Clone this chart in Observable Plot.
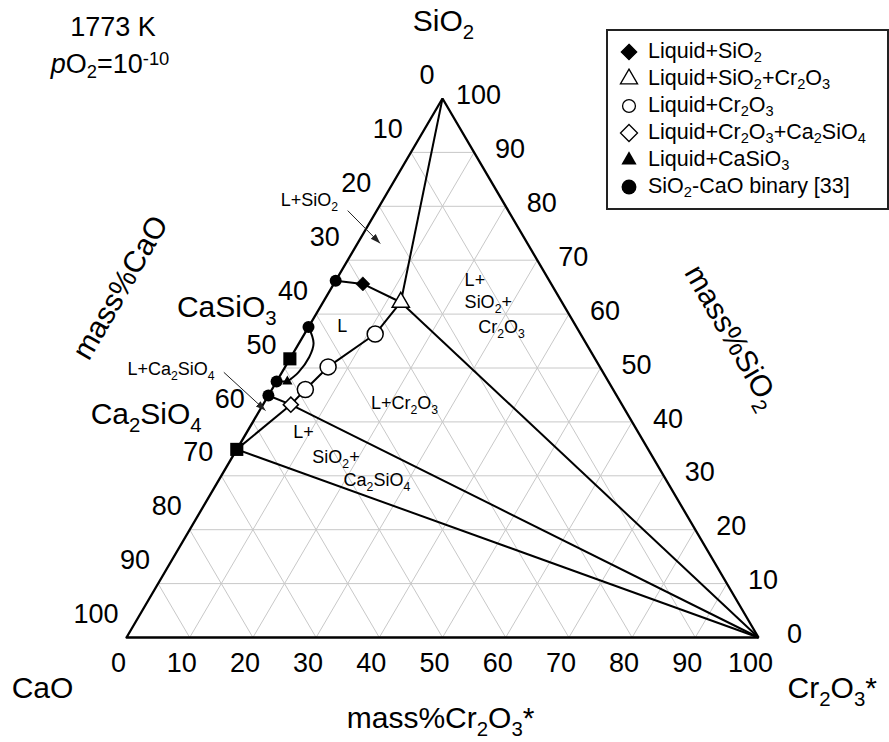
<!DOCTYPE html>
<html><head><meta charset="utf-8">
<script src="https://cdn.jsdelivr.net/npm/d3@7"></script>
<script src="https://cdn.jsdelivr.net/npm/@observablehq/plot@0.6"></script>
<style>
body{margin:0;background:#fff;font-family:"Liberation Sans",Arial,sans-serif;color:#000;}
#wrap{position:relative;width:889px;height:742px;}
.ov{position:absolute;white-space:nowrap;}
.sub{font-size:0.68em;vertical-align:-0.28em;line-height:0;}
.sup{font-size:0.68em;vertical-align:0.45em;line-height:0;}
#legend{position:absolute;left:606px;top:29px;width:279px;height:177px;border:2px solid #222;background:#fff;}
.lrow{position:absolute;left:0;height:27px;line-height:27px;font-size:21.5px;}
.lrow svg{position:absolute;left:10px;top:3px;}
.lrow span.t{position:absolute;left:40px;top:0;}
</style></head><body><div id="wrap"></div><script>
// ---- data: compositions [CaO, SiO2, Cr2O3*] in mass% ----
const cornerSiO2 = [0, 100, 0];
const cornerCaO = [100, 0, 0];
const cornerCr2O3 = [0, 0, 100];
const binaryCaOSiO2 = [[33.8, 66.2, 0], [42.4, 57.6, 0], [52.5, 47.5, 0], [55.1, 44.9, 0]];
const liquidSiO2 = [[29.8, 65.6, 4.6]];
const liquidSiO2Cr2O3 = [[25.5, 62.2, 12.3]];
const liquidCr2O3 = [[32.5, 56.3, 11.2], [43.0, 50.2, 6.8], [48.7, 46.0, 5.3]];
const liquidCr2O3Ca2SiO4 = [[52.4, 43.2, 4.4]];
const liquidCaSiO3 = [[50.8, 47.5, 1.7]];
const compounds = [[48.3, 51.7, 0], [65.1, 34.9, 0]]; // CaSiO3, Ca2SiO4
const caSiO3Liquidus = [[42.4, 57.6, 0], [43.1, 54.6, 2.3], [45.1, 52.0, 2.9], [48.2, 49.2, 2.6], [50.8, 47.5, 1.7]];
const caSiO3Tail = [[50.8, 47.5, 1.7], [52.5, 47.5, 0]];
const tickValues = [0, 10, 20, 30, 40, 50, 60, 70, 80, 90, 100];
const gridValues = [10, 20, 30, 40, 50, 60, 70, 80, 90];

// region / axis labels: [CaO, SiO2, Cr2O3] anchor positions
const regionLabels = [
  {text: "L+SiO_2", at: [30.5, 81.1, -11.6], anchor: "middle"},
  {text: "L", at: [37.0, 57.7, 5.3], anchor: "middle"},
  {text: "L+", at: [13.4, 66.2, 20.4], anchor: "start"},
  {text: "SiO_2+", at: [15.4, 62.2, 22.4], anchor: "start"},
  {text: "Cr_2O_3", at: [15.6, 57.5, 26.9], anchor: "start"},
  {text: "L+Cr_2O_3", at: [34.3, 43.4, 22.3], anchor: "middle"},
  {text: "L+", at: [54.6, 38.0, 7.4], anchor: "start"},
  {text: "SiO_2+", at: [53.9, 33.4, 12.7], anchor: "start"},
  {text: "Ca_2SiO_4", at: [51.1, 29.1, 19.8], anchor: "start"},
  {text: "L+Ca_2SiO_4", at: [61.2, 49.7, -10.9], anchor: "end"}
];
const compoundLabels = [
  {text: "CaSiO_3", at: [45.6, 61.3, -6.9]},
  {text: "Ca_2SiO_4", at: [67.4, 41.4, -8.8]}
];
const cornerLabels = [
  {text: "SiO_2", at: [-7.3, 114.3, -7.0]},
  {text: "CaO", at: [118.0, -9.46, -8.56]},
  {text: "Cr_2O_3*", at: [-6.9, -9.46, 116.4]}
];
const axisTitles = [
  {text: "mass%CaO", at: [68.5, 64.9, -33.4], rotate: -60},
  {text: "mass%SiO_2", at: [-23.7, 55.8, 67.9], rotate: 60},
  {text: "mass%Cr_2O_3*", at: [57.8, -15.0, 57.2], rotate: 0}
];
const arrows = [
  {from: [25.4, 79.2, -4.6], to: [23.3, 73.1, 3.6]},
  {from: [60.0, 49.2, -9.2], to: [56.95, 42.1, 0.95]}
];
const legendLabels = ["Liquid+SiO_2", "Liquid+SiO_2+Cr_2O_3", "Liquid+Cr_2O_3", "Liquid+Cr_2O_3+Ca_2SiO_4", "Liquid+CaSiO_3", "SiO_2-CaO binary [33]"];

// ---- projection ----
const px = d => d[2] + d[1] / 2;
const py = d => d[1];

const gridSegs = gridValues.flatMap(k => [
  [[100 - k, k, 0], [0, k, 100 - k]],
  [[k, 100 - k, 0], [k, 0, 100 - k]],
  [[100 - k, 0, k], [0, 100 - k, k]]
]);
const ties = [
  [cornerSiO2, liquidSiO2Cr2O3[0]],
  [liquidSiO2Cr2O3[0], cornerCr2O3],
  [liquidCr2O3Ca2SiO4[0], cornerCr2O3],
  [compounds[1], liquidCr2O3Ca2SiO4[0]],
  [compounds[1], cornerCr2O3],
  [binaryCaOSiO2[3], liquidCr2O3Ca2SiO4[0]]
];
const boundarySiO2 = [binaryCaOSiO2[0], liquidSiO2[0], liquidSiO2Cr2O3[0]];
const boundaryCr2O3 = [liquidSiO2Cr2O3[0], ...liquidCr2O3, liquidCr2O3Ca2SiO4[0]];
const frame = [cornerCaO, cornerSiO2, cornerCr2O3, cornerCaO];

const FONT = "Liberation Sans, Arial, sans-serif";
const seg = {x1: d => px(d[0]), y1: d => py(d[0]), x2: d => px(d[1]), y2: d => py(d[1])};

const chart = Plot.plot({
  width: 889, height: 742,
  marginLeft: 126, marginRight: 131, marginTop: 98, marginBottom: 105,
  x: {domain: [0, 100], axis: null},
  y: {domain: [0, 100], axis: null},
  style: {fontFamily: FONT, background: "white", color: "black", overflow: "visible"},
  marks: [
    Plot.link(gridSegs, {...seg, stroke: "#c8c8c8", strokeWidth: 1}),
    Plot.link(ties, {...seg, stroke: "black", strokeWidth: 2}),
    Plot.line(boundarySiO2, {x: px, y: py, stroke: "black", strokeWidth: 2}),
    Plot.line(boundaryCr2O3, {x: px, y: py, stroke: "black", strokeWidth: 2}),
    Plot.line(caSiO3Liquidus, {x: px, y: py, stroke: "black", strokeWidth: 2, curve: "catmull-rom"}),
    Plot.line(caSiO3Tail, {x: px, y: py, stroke: "black", strokeWidth: 2}),
    Plot.line(frame, {x: px, y: py, stroke: "black", strokeWidth: 2.3, strokeLinejoin: "miter"}),
    Plot.link(arrows, {x1: d => px(d.from), y1: d => py(d.from), x2: d => px(d.to), y2: d => py(d.to), stroke: "#222", strokeWidth: 1, markerEnd: "arrow"}),
    Plot.dot(compounds, {x: px, y: py, symbol: "square", r: 7.4, fill: "black"}),
    Plot.dot(binaryCaOSiO2, {x: px, y: py, symbol: "circle", r: 6, fill: "black"}),
    Plot.dot(liquidSiO2, {x: px, y: py, symbol: "diamond2", r: 6.4, fill: "black", stroke: "black", strokeWidth: 0.5}),
    Plot.dot(liquidSiO2Cr2O3, {x: px, y: py, symbol: "triangle2", r: 8.2, fill: "white", stroke: "black", strokeWidth: 1.5}),
    Plot.dot(liquidCr2O3, {x: px, y: py, symbol: "circle", r: 8, fill: "white", stroke: "black", strokeWidth: 1.5}),
    Plot.dot(liquidCr2O3Ca2SiO4, {x: px, y: py, symbol: "diamond2", r: 6.8, fill: "white", stroke: "black", strokeWidth: 1.5}),
    Plot.dot(liquidCaSiO3, {x: px, y: py, symbol: "triangle", r: 3.8, fill: "black"}),
    // tick labels
    Plot.text(tickValues, {x: t => px([t, 100 - t, 0]), y: t => py([t, 100 - t, 0]), text: d => String(d), textAnchor: "end", dx: -8, dy: -23, fontSize: 27, fontFamily: FONT}),
    Plot.text(tickValues, {x: t => px([0, t, 100 - t]), y: t => py([0, t, 100 - t]), text: d => String(d), textAnchor: "middle", dx: 36, dy: -3, fontSize: 27, fontFamily: FONT}),
    Plot.text(tickValues, {x: t => px([100 - t, 0, t]), y: t => py([100 - t, 0, t]), text: d => String(d), textAnchor: "middle", dx: -8, dy: 26, fontSize: 27, fontFamily: FONT}),
    // region labels
    ...["start", "middle", "end"].map(a => Plot.text(regionLabels.filter(l => l.anchor === a), {x: d => px(d.at), y: d => py(d.at), text: "text", textAnchor: a, fontSize: 18, fontFamily: FONT})),
    Plot.text(compoundLabels, {x: d => px(d.at), y: d => py(d.at), text: "text", textAnchor: "end", fontSize: 30, fontFamily: FONT}),
    Plot.text(cornerLabels, {x: d => px(d.at), y: d => py(d.at), text: "text", textAnchor: "middle", fontSize: 30, fontFamily: FONT}),
    ...axisTitles.map(t => Plot.text([t], {x: d => px(d.at), y: d => py(d.at), text: "text", rotate: t.rotate, textAnchor: "middle", fontSize: 30, fontFamily: FONT}))
  ]
});

const wrap = document.getElementById("wrap");
wrap.appendChild(chart);

// subscript / superscript markup for SVG text
function parseMarkup(s) {
  const parts = []; let cur = "", i = 0;
  while (i < s.length) {
    const ch = s[i];
    if (ch === "_") { if (cur) parts.push({t: cur, k: "n"}); cur = ""; parts.push({t: s[i + 1], k: "sub"}); i += 2; }
    else if (ch === "^") { if (cur) parts.push({t: cur, k: "n"}); cur = ""; const j = s.indexOf("}", i); parts.push({t: s.slice(i + 2, j), k: "sup"}); i = j + 1; }
    else { cur += ch; i++; }
  }
  if (cur) parts.push({t: cur, k: "n"});
  return parts;
}
chart.querySelectorAll("text").forEach(t => {
  const s = t.textContent;
  if (!/[_^]/.test(s)) return;
  const F = parseFloat(getComputedStyle(t).fontSize);
  while (t.firstChild) t.removeChild(t.firstChild);
  let off = 0;
  parseMarkup(s).forEach(p => {
    const ts = document.createElementNS("http://www.w3.org/2000/svg", "tspan");
    const target = p.k === "sub" ? 0.28 * F : p.k === "sup" ? -0.42 * F : 0;
    if (target !== off) ts.setAttribute("dy", (target - off).toFixed(2));
    off = target;
    if (p.k !== "n") ts.setAttribute("font-size", (0.68 * F).toFixed(2));
    ts.textContent = p.t;
    t.appendChild(ts);
  });
});
// filled arrowheads
chart.querySelectorAll("marker").forEach(m => {
  m.setAttribute("viewBox", "-10 -5 11 10");
  m.setAttribute("markerWidth", 11);
  m.setAttribute("markerHeight", 10);
  m.setAttribute("fill", "#222");
  m.setAttribute("stroke", "none");
  const p = m.querySelector("path");
  if (p) p.setAttribute("d", "M-10,-3.5L0,0L-10,3.5Z");
});

// HTML markup for overlays
const html = s => parseMarkup(s).map(p => p.k === "n" ? p.t : `<span class="${p.k}">${p.t}</span>`).join("");

// title
const t1 = document.createElement("div");
t1.className = "ov"; t1.style.cssText = "left:13px;width:200px;text-align:center;top:14px;font-size:27px;line-height:27px;";
t1.textContent = "1773 K";
wrap.appendChild(t1);
const t2 = document.createElement("div");
t2.className = "ov"; t2.style.cssText = "left:10px;width:200px;text-align:center;top:51px;font-size:27px;line-height:27px;";
t2.innerHTML = "<i>p</i>O" + html("_2") + "=10" + html("^{-10}");
wrap.appendChild(t2);

// legend
const legendSymbols = [
  {sym: d3.symbolDiamond2, size: 150, fill: "black", stroke: "black"},
  {sym: d3.symbolTriangle2, size: 210, fill: "white", stroke: "black"},
  {sym: d3.symbolCircle, size: 130, fill: "white", stroke: "black"},
  {sym: d3.symbolDiamond2, size: 185, fill: "white", stroke: "black"},
  {sym: d3.symbolTriangle, size: 100, fill: "black", stroke: "none"},
  {sym: d3.symbolCircle, size: 175, fill: "black", stroke: "none"}
];
const legend = document.createElement("div");
legend.id = "legend";
const rowCenters = [20, 47, 74, 101, 128, 155];
legendLabels.forEach((lab, i) => {
  const row = document.createElement("div");
  row.className = "lrow";
  row.style.top = (rowCenters[i] - 13.5) + "px";
  row.style.width = "270px";
  const s = legendSymbols[i];
  const path = d3.symbol(s.sym, s.size)();
  row.innerHTML = `<svg width="22" height="22" viewBox="-11 -11 22 22"><path d="${path}" fill="${s.fill}" stroke="${s.stroke}" stroke-width="1.3"/></svg><span class="t">${html(lab)}</span>`;
  legend.appendChild(row);
});
wrap.appendChild(legend);
</script></body></html>
